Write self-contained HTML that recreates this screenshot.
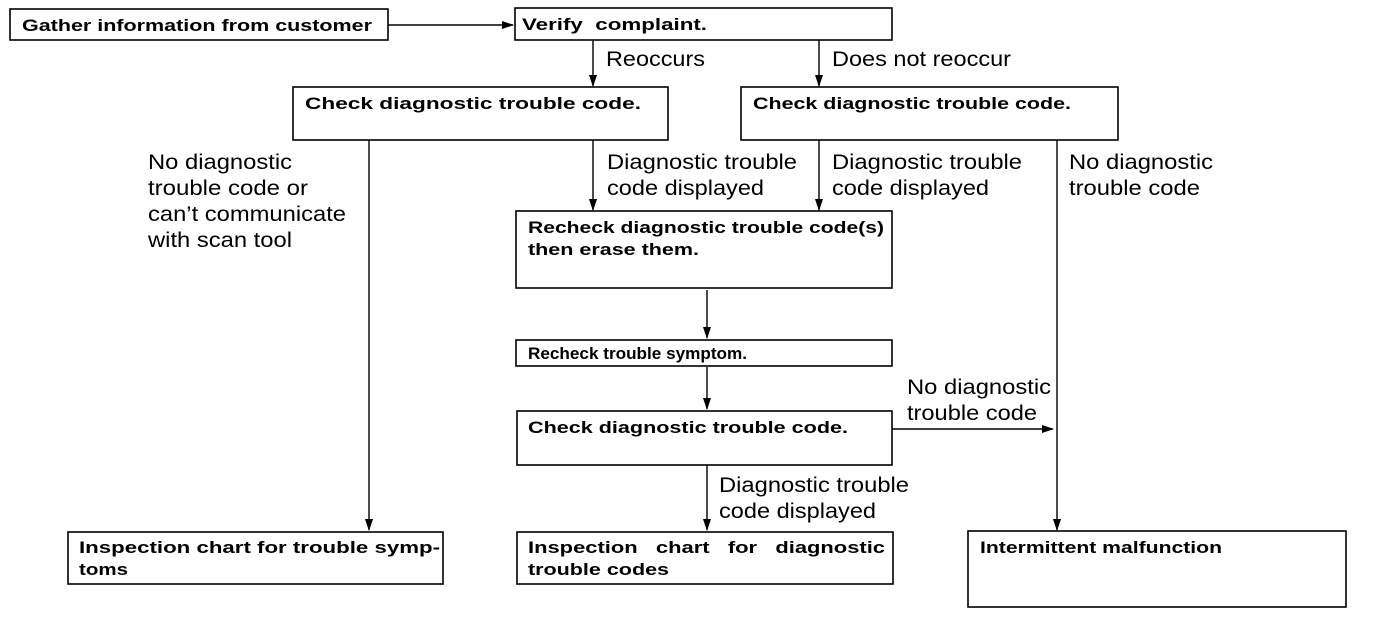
<!DOCTYPE html>
<html><head><meta charset="utf-8"><style>
html,body{margin:0;padding:0;background:#fff;}
svg{display:block;}
.b{font-family:"Liberation Sans",sans-serif;font-weight:bold;font-size:17px;fill:#000;}
.l{font-family:"Liberation Sans",sans-serif;font-size:21px;fill:#000;}
rect{fill:none;stroke:#000;stroke-width:1.6;}
line{stroke:#000;stroke-width:1.4;}
</style></head><body>
<svg width="1376" height="624" viewBox="0 0 1376 624" xmlns="http://www.w3.org/2000/svg">
<defs><marker id="a" markerWidth="12" markerHeight="8" refX="11" refY="4" orient="auto" markerUnits="userSpaceOnUse"><path d="M0,0 L12,4 L0,8 z" fill="#000"/></marker></defs>
<rect x="10" y="9" width="378" height="31"/>
<text class="b" x="22" y="31" textLength="350" lengthAdjust="spacingAndGlyphs">Gather information from customer</text>
<rect x="515" y="8" width="377" height="32"/>
<text class="b" x="522" y="30" xml:space="preserve" textLength="185" lengthAdjust="spacingAndGlyphs">Verify  complaint.</text>
<line x1="388" y1="25" x2="513" y2="25" marker-end="url(#a)"/>
<line x1="593" y1="40" x2="593" y2="86" marker-end="url(#a)"/>
<text class="l" x="606" y="66" textLength="99" lengthAdjust="spacingAndGlyphs">Reoccurs</text>
<line x1="819" y1="40" x2="819" y2="86" marker-end="url(#a)"/>
<text class="l" x="832" y="66" textLength="179" lengthAdjust="spacingAndGlyphs">Does not reoccur</text>
<rect x="293" y="87" width="375" height="53"/>
<text class="b" x="305" y="109" textLength="336" lengthAdjust="spacingAndGlyphs">Check diagnostic trouble code.</text>
<rect x="741" y="87" width="377" height="53"/>
<text class="b" x="753" y="109" textLength="318" lengthAdjust="spacingAndGlyphs">Check diagnostic trouble code.</text>
<line x1="369" y1="140" x2="369" y2="530" marker-end="url(#a)"/>
<text class="l" x="148" y="169" textLength="144" lengthAdjust="spacingAndGlyphs">No diagnostic</text>
<text class="l" x="148" y="195" textLength="160" lengthAdjust="spacingAndGlyphs">trouble code or</text>
<text class="l" x="148" y="221" textLength="198" lengthAdjust="spacingAndGlyphs">can’t communicate</text>
<text class="l" x="148" y="247" textLength="144" lengthAdjust="spacingAndGlyphs">with scan tool</text>
<line x1="593" y1="140" x2="593" y2="210" marker-end="url(#a)"/>
<text class="l" x="607" y="169" textLength="190" lengthAdjust="spacingAndGlyphs">Diagnostic trouble</text>
<text class="l" x="607" y="195" textLength="157" lengthAdjust="spacingAndGlyphs">code displayed</text>
<line x1="819" y1="140" x2="819" y2="210" marker-end="url(#a)"/>
<text class="l" x="832" y="169" textLength="190" lengthAdjust="spacingAndGlyphs">Diagnostic trouble</text>
<text class="l" x="832" y="195" textLength="157" lengthAdjust="spacingAndGlyphs">code displayed</text>
<line x1="1057" y1="140" x2="1057" y2="530" marker-end="url(#a)"/>
<text class="l" x="1069" y="169" textLength="144" lengthAdjust="spacingAndGlyphs">No diagnostic</text>
<text class="l" x="1069" y="195" textLength="131" lengthAdjust="spacingAndGlyphs">trouble code</text>
<rect x="516" y="211" width="376" height="77"/>
<text class="b" x="528" y="233" textLength="356" lengthAdjust="spacingAndGlyphs">Recheck diagnostic trouble code(s)</text>
<text class="b" x="528" y="255" textLength="171" lengthAdjust="spacingAndGlyphs">then erase them.</text>
<line x1="707" y1="290" x2="707" y2="338" marker-end="url(#a)"/>
<rect x="516" y="340" width="376" height="26"/>
<text class="b" x="528" y="359" textLength="219" lengthAdjust="spacingAndGlyphs">Recheck trouble symptom.</text>
<line x1="707" y1="367" x2="707" y2="409" marker-end="url(#a)"/>
<rect x="517" y="411" width="375" height="54"/>
<text class="b" x="528" y="433" textLength="320" lengthAdjust="spacingAndGlyphs">Check diagnostic trouble code.</text>
<line x1="892" y1="429" x2="1053" y2="429" marker-end="url(#a)"/>
<text class="l" x="907" y="394" textLength="144" lengthAdjust="spacingAndGlyphs">No diagnostic</text>
<text class="l" x="907" y="420" textLength="130" lengthAdjust="spacingAndGlyphs">trouble code</text>
<line x1="707" y1="465" x2="707" y2="530" marker-end="url(#a)"/>
<text class="l" x="719" y="492" textLength="190" lengthAdjust="spacingAndGlyphs">Diagnostic trouble</text>
<text class="l" x="719" y="518" textLength="157" lengthAdjust="spacingAndGlyphs">code displayed</text>
<rect x="68" y="532" width="375" height="52"/>
<text class="b" x="79" y="553" textLength="361" lengthAdjust="spacingAndGlyphs">Inspection chart for trouble symp-</text>
<text class="b" x="79" y="575" textLength="49" lengthAdjust="spacingAndGlyphs">toms</text>
<rect x="517" y="532" width="376" height="52"/>
<text class="b" x="528" y="553" xml:space="preserve" textLength="357" lengthAdjust="spacingAndGlyphs">Inspection   chart   for   diagnostic</text>
<text class="b" x="528" y="575" textLength="141" lengthAdjust="spacingAndGlyphs">trouble codes</text>
<rect x="968" y="531" width="378" height="76"/>
<text class="b" x="980" y="553" textLength="242" lengthAdjust="spacingAndGlyphs">Intermittent malfunction</text>
</svg>
</body></html>
